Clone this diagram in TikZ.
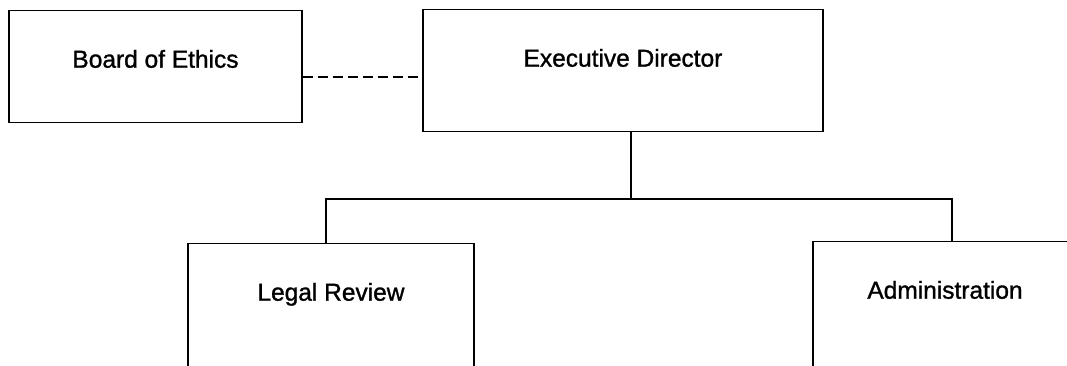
\documentclass[tikz,border=0pt]{standalone}
\usepackage{fontspec}
\setmainfont{Liberation Sans}[FakeBold=1.2]
\usepackage{tikz}

\tikzset{
    unit/.style={draw, line width=1.3pt, anchor=north, inner sep=0pt,
        text height=57pt, font=\fontsize{24.5pt}{29pt}\selectfont},
    link/.style={line width=1.3pt}
}

\begin{document}
\begin{tikzpicture}[x=1pt, y=-1pt]
    \useasboundingbox (0,0) rectangle (1067,366);
    \clip (0,0) rectangle (1067,366);

    % top row
    \node[unit, minimum width=293pt, text depth=55pt] (ethics) at (155.5,10) {Board of Ethics};
    \node[unit, minimum width=400pt, text depth=65pt] (director) at (623,9) {Executive Director};

    % bottom row, cut off at the lower edge
    \node[unit, minimum width=286pt, text depth=75pt] (legal) at (331,243) {Legal Review};
    \node[unit, minimum width=264pt, text depth=75pt] (admin) at (945,241) {Administration};

    % helper points for the connectors
    \coordinate (liaison) at (0,77);
    \coordinate (fork) at (631,199);
    \coordinate (leftdrop) at (326,199);
    \coordinate (rightdrop) at (952,199);

    % advisory line
    \draw[link, dash pattern=on 10pt off 5pt] (ethics.east |- liaison) -- (director.west |- liaison);

    % reporting lines
    \draw[link] (director.south -| fork) -- (fork);
    \draw[link] (legal.north -| leftdrop) -- (leftdrop) -- (rightdrop) -- (admin.north -| rightdrop);
\end{tikzpicture}
\end{document}
